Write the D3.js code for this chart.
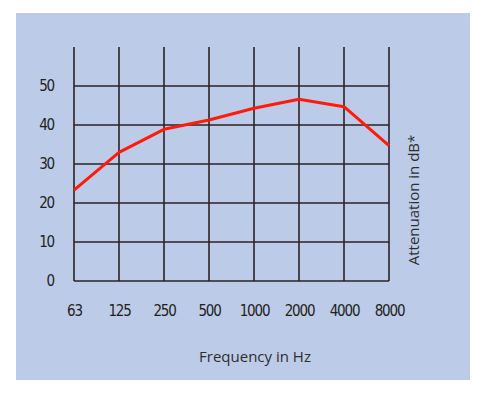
<!DOCTYPE html>
<html>
<head>
<meta charset="utf-8">
<script src="https://cdn.jsdelivr.net/npm/d3@7"></script>
<style>
  body { margin: 0; background: #fff; }
  .tick text { font-family: "DejaVu Sans Condensed", "Liberation Sans Narrow", sans-serif; font-size: 15px; fill: #231f20; letter-spacing: -1.2px; }
  .title { font-family: "Open Sans", "Noto Sans", sans-serif; font-size: 15px; fill: #2e2e2e; }
</style>
</head>
<body>
<svg width="486" height="393"></svg>
<script>
// frequency bands (Hz) and attenuation (dB)
var freqs = ["63", "125", "250", "500", "1000", "2000", "4000", "8000"];
var attenuation = [23.3, 33, 38.9, 41.3, 44.3, 46.6, 44.7, 34.7];
var yTicks = [0, 10, 20, 30, 40, 50];

var svg = d3.select("svg");

svg.append("rect")
    .attr("x", 16).attr("y", 13)
    .attr("width", 454).attr("height", 367)
    .attr("fill", "#bccbe8");

var x = d3.scalePoint().domain(freqs).range([74, 389]);
var y = d3.scaleLinear().domain([0, 60]).range([281, 47]);

var grid = svg.append("g").attr("stroke", "#2b2224").attr("stroke-width", 1.6);

grid.selectAll(".hline")
    .data(yTicks)
    .enter().append("line")
    .attr("x1", x(freqs[0]))
    .attr("x2", x(freqs[freqs.length - 1]))
    .attr("y1", function (d) { return y(d); })
    .attr("y2", function (d) { return y(d); });

grid.selectAll(".vline")
    .data(freqs)
    .enter().append("line")
    .attr("x1", function (d) { return x(d); })
    .attr("x2", function (d) { return x(d); })
    .attr("y1", y(0))
    .attr("y2", y(60));

var line = d3.line()
    .x(function (d, i) { return x(freqs[i]); })
    .y(function (d) { return y(d); });

svg.append("path")
    .datum(attenuation)
    .attr("d", line)
    .attr("fill", "none")
    .attr("stroke", "#ff1a0a")
    .attr("stroke-width", 3)
    .attr("stroke-linejoin", "round");

var yAxis = svg.append("g")
    .attr("transform", "translate(" + x(freqs[0]) + ",0)")
    .call(d3.axisLeft(y).tickValues(yTicks).tickSize(0).tickPadding(20));
yAxis.select(".domain").remove();

var xAxis = svg.append("g")
    .attr("transform", "translate(0," + y(0) + ")")
    .call(d3.axisBottom(x).tickSize(0).tickPadding(24));
xAxis.select(".domain").remove();

svg.append("text")
    .attr("class", "title")
    .attr("x", 255).attr("y", 362)
    .attr("text-anchor", "middle")
    .text("Frequency in Hz");

svg.append("text")
    .attr("class", "title")
    .attr("transform", "translate(419,200) rotate(-90)")
    .attr("text-anchor", "middle")
    .text("Attenuation in dB*");
</script>
</body>
</html>
